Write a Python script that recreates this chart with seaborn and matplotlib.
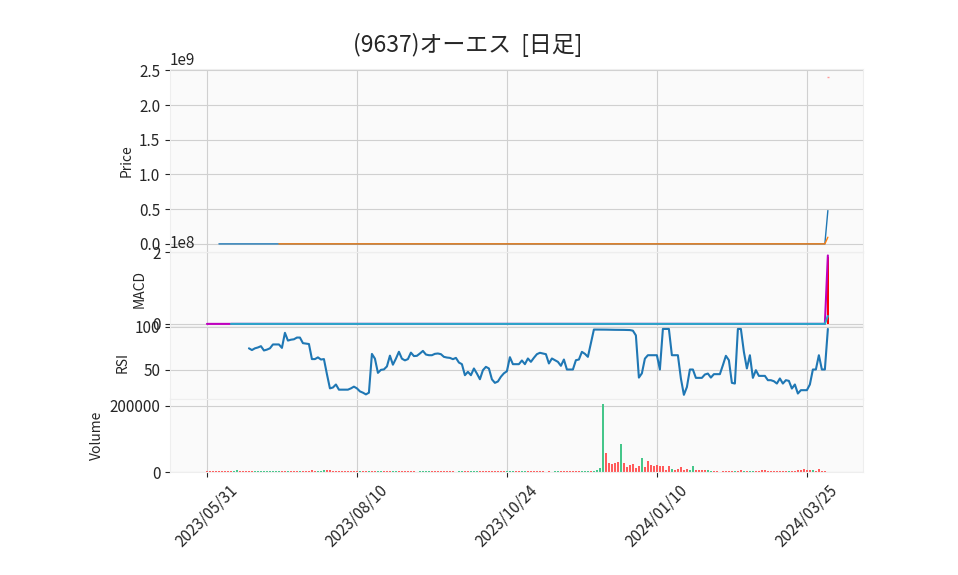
import numpy as np
import pandas as pd
import matplotlib
matplotlib.use("Agg")
import matplotlib.pyplot as plt
import seaborn as sns

nan = np.nan

title = "(9637)オーエス  [日足]"
tick_pos = [0, 50, 100, 150, 200]
tick_labels = ["2023/05/31", "2023/08/10", "2023/10/24", "2024/01/10", "2024/03/25"]

# price panel: real prices (~3000 yen) vanish at 1e9 scale, last row is broken
ma5 = [nan] * 4 + [3000.0] * 203 + [4.8e8]
ma25 = [nan] * 24 + [3000.0] * 183 + [0.96e8]
last_high = 2.4e9

# MACD panel
macd = [0.0] * 207 + [1.91e8]
signal = [nan] * 8 + [0.0] * 199 + [0.22e8]
hist = [0.0] * 207 + [1.87e8]

# RSI (14)
rsi = [nan] * 14 + [
    75, 73, 75, 76, 77.5, 72.5, 73.5, 75, 79.5, 79.5, 79.5, 75.5, 93, 84, 85, 85.5,
    87.5, 87.5, 81, 80.5, 80, 62.5, 62.5, 64.5, 62, 62.5, 45, 28.5, 29.5, 33, 27, 27,
    27, 27, 28.5, 30.5, 28.5, 25, 23.5, 21.5, 23.5, 68.5, 63, 46.5, 50, 50.5, 54, 66.5,
    56, 63, 71, 63, 61, 62.5, 70, 66,
    66.3, 69, 72, 67.8, 67, 67, 68.6, 69, 68.2, 65.1, 64.3, 63.9, 62.4, 63.9, 58.5, 56.6,
    43.8, 47.7, 43.8, 51.6, 45.7, 39.1, 49.6, 53.5, 51.6, 39, 34.9, 36.5, 42, 46, 48.4,
    64.7, 56.6, 56.6, 56.6, 60.9, 56.6, 63.2, 59.3, 64, 68.2, 69.8, 69, 68.2, 57.4, 63.2,
    61.2, 59.3, 54.7, 62, 50.4, 50.4, 50.4, 61.2, 62, 70.9, 68.6, 65.1, 81, 96.8,
    96.8, 96.8, 96.7, 96.7, 96.6, 96.6, 96.5, 96.5, 96.4, 96.4, 96.3, 96.2, 95.5,
    90, 41, 46, 63, 67, 67, 67, 67, 50.4, 97.5, 97.5, 97.5, 67, 67, 67, 40, 21, 30,
    50.4, 50.4, 40.7, 40.7, 40.7, 44.6, 45.7, 41, 45, 45, 45, 55.4, 66.3, 61.2, 34.9, 34.1,
    97.5, 97.5, 70.9, 51.6, 67, 40.7, 49.6, 43, 43, 43, 38, 38, 36.8, 34.1, 40, 34.1,
    38, 37.2, 28.3, 33, 22.5, 26.4, 26.4, 26.4, 33, 50.4, 50.4, 67, 50.4, 50.4, 97.5,
]

volume = [
    3000, 3000, 3000, 3000, 3000, 3000, 3000, 3000, 3000, 3000,
    5000, 3000, 3000, 3000, 3000, 3000, 3000, 3000, 3000, 3000,
    3000, 3000, 3000, 3000, 3000, 3000, 3000, 3000, 3000, 3000,
    3000, 3000, 3000, 3000, 3000, 5000, 3000, 3000, 3000, 6000,
    6000, 6000, 3000, 3000, 3000, 3000, 3000, 3000, 3000, 3000,
    3000, 3000, 3000, 3000, 3000, 3000, 3000, 3000, 3000, 3000,
    3000, 3000, 3000, 3000, 3000, 3000, 3000, 3000, 3000, 3000,
    0, 3000, 3000, 3000, 3000, 3000, 3000, 3000, 3000, 3000,
    3000, 3000, 3000, 0, 3000, 3000, 3000, 3000, 3000, 3000,
    3000, 3000, 3000, 3000, 3000, 3000, 3000, 3000, 3000, 3000,
    3000, 3000, 3000, 3000, 3000, 3000, 3000, 3000, 3000, 3000,
    3000, 3000, 3000, 0, 3000, 0, 3000, 3000, 3000, 3000,
    3000, 3000, 3000, 3000, 3000, 3000, 3000, 3000, 3000, 3000,
    5000, 11500, 207000, 57000, 26000, 24000, 28000, 30000, 86000, 26500,
    14500, 21000, 24300, 12000, 18000, 42300, 14500, 33500, 21000, 18000,
    20000, 18500, 18500, 7000, 18000, 8500, 5500, 9200, 15000, 6000,
    8000, 6200, 18000, 6000, 6000, 6000, 6000, 5000, 3000, 3000,
    3000, 0, 3000, 3000, 3000, 3000, 3000, 3000, 6000, 3000,
    3000, 3000, 3000, 3000, 3000, 6000, 6000, 3000, 3000, 3000,
    3000, 3000, 3000, 3000, 3000, 3000, 3000, 6000, 6000, 9000,
    6000, 6000, 6000, 3000, 9000, 3000, 3000, 0,
]
# u = up day (green), d = down day (red), ten days per row
vol_dir_rows = [
    "dddddddddu", "uddddduuuu", "uuuuuddudd", "duddddduuu", "dddddddddd",
    "duddudduud", "dduudddddd", "duuuuddddd", "dddduudduu", "uddddddddd",
    "uuudduuddd", "dddddduudd", "ddddduuudu", "uuudddddud", "dddddudddd",
    "dddddudddd", "duudddduud", "dddddduddu", "duuddddddd", "dddduddddd",
    "ddudddd" + "d",
]
vol_dir = "".join(vol_dir_rows)

x = np.arange(len(volume))
up_col, down_col = "#45c68a", "#ff5b5b"
vol_colors = [up_col if c == "u" else down_col for c in vol_dir]

sns.set_style("whitegrid", {
    "axes.facecolor": "#fafafa",
    "grid.color": "#d0d0d0",
    "axes.edgecolor": "#eeeeee",
    "xtick.bottom": True,
    "ytick.left": True,
})
plt.rcParams["font.family"] = ["Noto Sans CJK JP", "DejaVu Sans"]
plt.rcParams["xtick.labelsize"] = 11
plt.rcParams["ytick.labelsize"] = 11

fig = plt.figure(figsize=(9.58, 5.75), dpi=100)
gs = fig.add_gridspec(4, 1, height_ratios=[2.5, 1, 1, 1], hspace=0,
                      left=0.1775, right=0.9008, top=0.88, bottom=0.179)
ax0 = fig.add_subplot(gs[0])
ax1 = fig.add_subplot(gs[1], sharex=ax0)
ax2 = fig.add_subplot(gs[2], sharex=ax0)
ax3 = fig.add_subplot(gs[3], sharex=ax0)

# Price
sns.lineplot(x=x, y=pd.Series(ma5), ax=ax0, color="tab:blue", lw=1)
sns.lineplot(x=x, y=pd.Series(ma25), ax=ax0, color="tab:orange", lw=1)
ax0.hlines(last_high, x[-1] - 0.3, x[-1] + 0.3, color="#ff9a9a", lw=1)
ax0.set_ylim(-0.12e9, 2.52e9)
ax0.set_yticks([0, 0.5e9, 1.0e9, 1.5e9, 2.0e9, 2.5e9])
ax0.set_ylabel("Price")

# MACD
ax1.bar(x, hist, width=0.7, color="red", linewidth=0)
sns.lineplot(x=x, y=pd.Series(macd), ax=ax1, color="m", lw=1.5)
sns.lineplot(x=x, y=pd.Series(signal), ax=ax1, color="#2aa7c9", lw=1.5)
ax1.set_ylim(-0.045e8, 2.0e8)
ax1.set_yticks([0, 2e8])
ax1.set_ylabel("MACD")

# RSI
sns.lineplot(x=x, y=pd.Series(rsi), ax=ax2, color="#1f77b4", lw=1.5)
ax2.set_ylim(16.4, 101.5)
ax2.set_yticks([50, 100])
ax2.set_ylabel("RSI")

# Volume
ax3.bar(x, volume, width=0.9, color=vol_colors[:len(volume)], linewidth=0)
ax3.set_ylim(0, 221500)
ax3.set_yticks([0, 200000])
ax3.set_ylabel("Volume")

for ax in (ax0, ax1, ax2):
    ax.tick_params(axis="x", bottom=False, labelbottom=False)
ax3.set_xlim(-12.3, 218.7)
ax3.set_xticks(tick_pos)
ax3.set_xticklabels(tick_labels, rotation=45, ha="center")

fig.suptitle(title, x=0.488, y=0.922, fontsize=16.5, va="center")

fig.savefig("out.png", dpi=100)
